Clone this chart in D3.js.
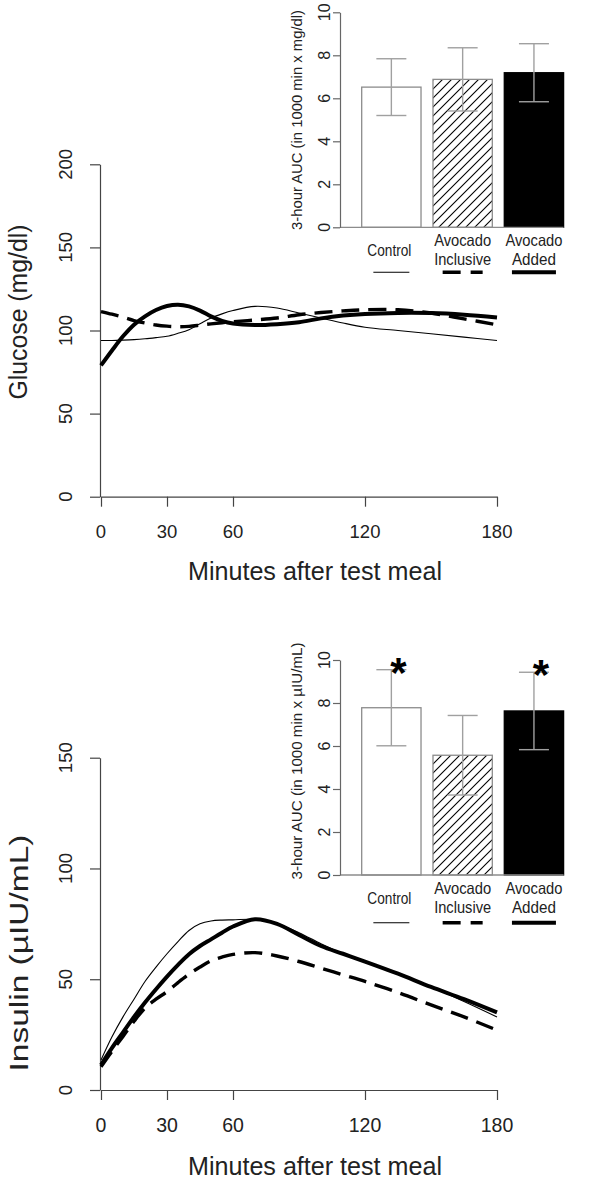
<!DOCTYPE html>
<html><head><meta charset="utf-8">
<script src="https://cdn.jsdelivr.net/npm/d3@7"></script>
<style>
body{margin:0;background:#fff}
svg{display:block}
text{font-family:"Liberation Sans",Arial,Helvetica,sans-serif;fill:#222}
</style>
</head><body>
<svg id="c" width="600" height="1185"></svg>
<script>
// ---------- DATA ----------
const minutes = [0,5,10,15,20,25,30,35,40,45,50,55,60,70,80,90,100,110,120,135,150,165,180];
const xTicks = [0,30,60,120,180];

const glucoseControl   = [94,94,94.2,94.5,95,95.7,96.5,98.3,100.5,104,107.5,110,112,114.5,113.5,110.5,107.5,104.5,102,100,98,96,94];
const glucoseInclusive = [111.4,109.8,108,106,104.5,103.3,102.6,102.3,102.5,103.2,104,104.7,105.3,106.3,107.5,109.5,110.8,111.8,112.5,112.5,110.5,107,103.4];
const glucoseAdded     = [79,88,96.5,103.5,108.5,112.3,114.7,115.5,114.5,112,108.5,105.8,104.2,103.3,103.8,105,107.3,109,110,110.6,110.5,109.5,107.8];
const glucoseTicks = [0,50,100,150,200];

const insulinControl   = [13.5,24,33,41,49,55.5,61.5,67,72,75,76.3,76.7,76.8,77,75,71,66,61.5,58,52.5,46.5,40,33];
const insulinInclusive = [10.5,17.5,24.2,31,37,41,44.4,48.5,52.3,55.5,58.3,60,61.2,62,60.5,58,55,52,49,44,38.4,33,27];
const insulinAdded     = [11.3,19,26,33,39.5,45.5,51.2,56.5,61.3,65,68,71,73.8,77.1,75,70,65,61.5,58,52.5,46.5,41,35];
const insulinTicks = [0,50,100,150];

const groups = ["Control","Avocado Inclusive","Avocado Added"];
const groupLabels = [["Control"],["Avocado","Inclusive"],["Avocado","Added"]];
const glucoseAUC = [6.52,6.88,7.19];
const glucoseErr = [1.32,1.47,1.35];
const insulinAUC = [7.78,5.57,7.63];
const insulinErr = [1.77,1.85,1.80];
const insulinStar = [true,false,true];
const aucTicks = [0,2,4,6,8,10];

// ---------- DRAW ----------
const svg = d3.select("#c");
const defs = svg.append("defs");
const pat = defs.append("pattern").attr("id","hatch").attr("patternUnits","userSpaceOnUse")
  .attr("width",9).attr("height",9);
pat.append("path").attr("d","M0,9 L9,0 M-1,1 L1,-1 M8,10 L10,8")
  .attr("stroke","#000").attr("stroke-width",1.1);

const x = d3.scaleLinear().domain([0,180]).range([101,497]);
const styles = [
  {key:"control", width:1.1, dash:null},
  {key:"inclusive", width:3.4, dash:"18,9"},
  {key:"added", width:4, dash:null}
];

function mainPanel(cfg){
  const y = d3.scaleLinear().domain(cfg.domain).range(cfg.range);
  const g = svg.append("g");
  g.append("g").attr("transform",`translate(${x(0)-1},0)`)
    .call(d3.axisLeft(y).tickValues(cfg.ticks).tickSize(10).tickSizeOuter(0).tickFormat(""))
    .attr("color","#444").selectAll("path,line").attr("stroke-width",1.2);
  g.append("g").attr("transform",`translate(0,${y(0)})`)
    .call(d3.axisBottom(x).tickValues(xTicks).tickSize(10).tickSizeOuter(0).tickFormat(""))
    .attr("color","#444").selectAll("path,line").attr("stroke-width",1.2);
  g.selectAll(".ytl").data(cfg.ticks).join("text")
    .attr("transform",d=>`translate(71.5,${y(d)}) rotate(-90)`)
    .attr("text-anchor","middle").attr("font-size",18.5).text(d=>d);
  g.selectAll(".xtl").data(xTicks).join("text")
    .attr("x",d=>x(d)).attr("y",cfg.xtickY)
    .attr("text-anchor","middle").attr("font-size",cfg.xtickSize).text(d=>d);
  g.append("text").attr("x",315).attr("y",cfg.xlabY).attr("text-anchor","middle")
    .attr("font-size",26).attr("textLength",254).attr("lengthAdjust","spacingAndGlyphs")
    .text("Minutes after test meal");
  g.append("text").attr("transform",`translate(${cfg.ylabX},${cfg.ylabCY}) rotate(-90)`)
    .attr("text-anchor","middle").attr("font-size",25.5)
    .attr("textLength",cfg.ylabLen).attr("lengthAdjust","spacingAndGlyphs")
    .text(cfg.ylab);
  const line = d3.line().x((d,i)=>x(minutes[i])).y(d=>y(d)).curve(d3.curveCatmullRom.alpha(0.5));
  cfg.series.forEach((s,i)=>{
    const st = styles[i];
    const p = g.append("path").datum(s).attr("d",line).attr("fill","none")
      .attr("stroke","#000").attr("stroke-width",st.width).attr("stroke-linejoin","round");
    if(st.dash) p.attr("stroke-dasharray",st.dash);
  });
}

function inset(cfg){
  const y = d3.scaleLinear().domain([0,10]).range(cfg.range);
  const xb = d3.scaleBand().domain(groups).range([361.7,563.6]).paddingInner(0.168).paddingOuter(0);
  const g = svg.append("g");
  const data = groups.map((k,i)=>({k,i,v:cfg.values[i],e:cfg.err[i]}));
  g.selectAll(".bar").data(data).join("rect")
    .attr("x",d=>xb(d.k)).attr("width",xb.bandwidth())
    .attr("y",d=>y(d.v)).attr("height",d=>y(0)-y(d.v))
    .attr("fill",d=>d.i===0?"#fff":d.i===1?"url(#hatch)":"#000")
    .attr("stroke",d=>d.i===2?"#000":"#8c8c8c").attr("stroke-width",1.3);
  g.append("line").attr("x1",340).attr("x2",xb.range()[1]).attr("y1",y(0)).attr("y2",y(0))
    .attr("stroke","#8c8c8c").attr("stroke-width",1.3);
  const eb = g.selectAll(".eb").data(data).join("g").attr("stroke","#a0a0a0").attr("stroke-width",1.4);
  eb.append("line").attr("x1",d=>xb(d.k)+xb.bandwidth()/2).attr("x2",d=>xb(d.k)+xb.bandwidth()/2)
    .attr("y1",d=>y(d.v+d.e)).attr("y2",d=>y(d.v-d.e));
  eb.append("line").attr("x1",d=>xb(d.k)+xb.bandwidth()/2-15).attr("x2",d=>xb(d.k)+xb.bandwidth()/2+15)
    .attr("y1",d=>y(d.v+d.e)).attr("y2",d=>y(d.v+d.e));
  eb.append("line").attr("x1",d=>xb(d.k)+xb.bandwidth()/2-15).attr("x2",d=>xb(d.k)+xb.bandwidth()/2+15)
    .attr("y1",d=>y(d.v-d.e)).attr("y2",d=>y(d.v-d.e));
  g.append("g").attr("transform","translate(340,0)")
    .call(d3.axisLeft(y).tickValues(aucTicks).tickSize(7).tickSizeOuter(0).tickFormat(""))
    .attr("color","#666").selectAll("path,line").attr("stroke-width",1.2);
  g.selectAll(".atl").data(aucTicks).join("text")
    .attr("transform",d=>`translate(330,${y(d)}) rotate(-90)`)
    .attr("text-anchor","middle").attr("font-size",16).text(d=>d);
  g.append("text").attr("transform",`translate(302,${cfg.ylabCY}) rotate(-90)`)
    .attr("text-anchor","middle").attr("font-size",15)
    .attr("textLength",cfg.ylabLen).attr("lengthAdjust","spacingAndGlyphs").text(cfg.ylab);
  const y0 = y(0);
  data.forEach(d=>{
    const cx = xb(d.k)+xb.bandwidth()/2;
    const lines = groupLabels[d.i];
    if(lines.length===1){
      g.append("text").attr("x",cx-2).attr("y",y0+29).attr("text-anchor","middle")
        .attr("font-size",16.5).attr("textLength",44).attr("lengthAdjust","spacingAndGlyphs").text(lines[0]);
    } else {
      lines.forEach((t,j)=>{
        g.append("text").attr("x",cx).attr("y",y0+19+j*19).attr("text-anchor","middle")
          .attr("font-size",16.5).attr("textLength",t==="Added"?44:57).attr("lengthAdjust","spacingAndGlyphs").text(t);
      });
    }
    const st = styles[d.i];
    const half = [18,20,22][d.i];
    const l = g.append("line").attr("x1",cx-half).attr("x2",cx+half)
      .attr("y1",y0+cfg.legendOff).attr("y2",y0+cfg.legendOff)
      .attr("stroke","#000").attr("stroke-width",st.width);
    if(st.dash) l.attr("stroke-dasharray","18,10");
    if(cfg.stars && cfg.stars[d.i]){
      g.append("text").attr("x",cx+7).attr("y",y(d.v+d.e)+17).attr("text-anchor","middle")
        .attr("font-size",42).attr("font-weight","bold").style("fill","#000").text("*");
    }
  });
}

mainPanel({domain:[0,200],range:[496.7,164.3],ticks:glucoseTicks,xtickY:538,xtickSize:18.5,xlabY:580,
  ylab:"Glucose (mg/dl)",ylabX:26.6,ylabCY:312,ylabLen:175,
  series:[glucoseControl,glucoseInclusive,glucoseAdded]});
mainPanel({domain:[0,150],range:[1090,757.7],ticks:insulinTicks,xtickY:1131.5,xtickSize:19.5,xlabY:1175,
  ylab:"Insulin (µIU/mL)",ylabX:28,ylabCY:953,ylabLen:237,
  series:[insulinControl,insulinInclusive,insulinAdded]});

inset({range:[227.3,12.3],values:glucoseAUC,err:glucoseErr,ylab:"3-hour AUC (in 1000 min x mg/dl)",
  ylabCY:120,ylabLen:220,legendOff:45});
inset({range:[875,660],values:insulinAUC,err:insulinErr,ylab:"3-hour AUC (in 1000 min x µIU/mL)",
  ylabCY:761,ylabLen:237,legendOff:47.7,stars:insulinStar});
</script>
</body></html>
